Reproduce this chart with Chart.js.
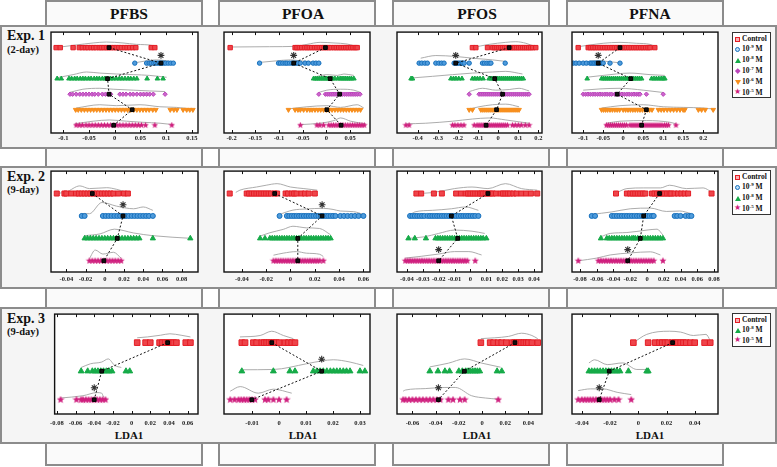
<!DOCTYPE html>
<html>
<head>
<meta charset="utf-8">
<script src="https://cdn.jsdelivr.net/npm/chart.js@4.4.1/dist/chart.umd.min.js"></script>
<style>
  html, body { margin: 0; padding: 0; background: #fff; }
  body { position: relative; width: 777px; height: 467px; overflow: hidden;
         font-family: "Liberation Serif", "Times New Roman", serif; font-weight: bold; color: #111; }
  .col { position: absolute; top: 0; width: 158px; height: 466px; box-sizing: border-box;
         border: 2px solid #8c8c8c; background: #fafafa; }
  .rowbox { position: absolute; left: 0; width: 777px; box-sizing: border-box;
            border: 2px solid #8c8c8c; background: #f5f5f5; }
  .hdr { position: absolute; top: 6px; width: 120px; margin-left: -60px; text-align: center;
         font-size: 15.5px; line-height: 15.5px; }
  .exp { position: absolute; left: 7px; font-size: 14px; line-height: 14px; }
  .day { position: absolute; left: 7px; font-size: 10.5px; line-height: 10.5px; }
  .lda { position: absolute; top: 430px; width: 60px; margin-left: -30px; text-align: center;
         font-size: 11px; line-height: 11px; }
  canvas { position: absolute; }
  .legend { position: absolute; left: 732px; width: 39px; box-sizing: border-box;
            border: 1.5px solid #333; background: #fff; }
  .li { position: absolute; left: 9px; font-size: 7.5px; line-height: 8px; white-space: nowrap; }
  .li sup { font-size: 5px; vertical-align: 3px; line-height: 0; }
  .sym { position: absolute; left: 2px; }
</style>
</head>
<body>
<div class="col" style="left:45px"></div>
<div class="col" style="left:218px"></div>
<div class="col" style="left:392px"></div>
<div class="col" style="left:566px"></div>
<div class="hdr" style="left:129px">PFBS</div>
<div class="hdr" style="left:303px">PFOA</div>
<div class="hdr" style="left:477px">PFOS</div>
<div class="hdr" style="left:650px">PFNA</div>
<div class="rowbox" style="top:25px;height:124px"></div>
<div class="rowbox" style="top:166px;height:123px"></div>
<div class="rowbox" style="top:307px;height:137px"></div>
<div class="exp" style="top:29px">Exp. 1</div>
<div class="day" style="top:45px">(2-day)</div>
<div class="exp" style="top:170px">Exp. 2</div>
<div class="day" style="top:184.5px">(9-day)</div>
<div class="exp" style="top:311.5px">Exp. 3</div>
<div class="day" style="top:327px">(9-day)</div>
<div class="lda" style="left:129px">LDA1</div>
<div class="lda" style="left:303px">LDA1</div>
<div class="lda" style="left:477px">LDA1</div>
<div class="lda" style="left:650px">LDA1</div>
<script>
// ---------- Exp. 1 (2-day): Control, 1e-9, 1e-8, 1e-7, 1e-6, 1e-5 M ----------
const pfbs1Ticks = [-0.1, -0.05, 0, 0.05, 0.1, 0.15];
const pfbs1Range = [-0.124, 0.162];
const pfbs1Points = [
  [-0.114,-0.106,-0.081,-0.069,-0.063,-0.057,-0.052,-0.046,-0.041,-0.036,-0.030,-0.026,-0.021,-0.016,-0.012,-0.007,-0.002,0.003,0.008,0.013,0.019,0.024,0.029,0.035,0.041,0.071,0.078],
  [0.039,0.062,0.067,0.071,0.076,0.080,0.084,0.088,0.091,0.095,0.099,0.104,0.109,0.114],
  [-0.112,-0.104,-0.089,-0.084,-0.078,-0.073,-0.067,-0.062,-0.057,-0.051,-0.046,-0.040,-0.035,-0.030,-0.024,-0.019,-0.014,-0.008,-0.003,0.003,0.009,0.014,0.020,0.026,0.031,0.037,0.043,0.063,0.083,0.094],
  [-0.087,-0.082,-0.075,-0.068,-0.062,-0.056,-0.050,-0.044,-0.039,-0.032,-0.024,-0.018,-0.012,-0.008,0.010,0.016,0.022,0.030,0.036,0.043,0.050,0.056,0.062,0.068,0.075,0.098],
  [-0.076,-0.071,-0.065,-0.059,-0.053,-0.047,-0.041,-0.035,-0.029,-0.023,-0.017,-0.011,-0.005,0.001,0.007,0.013,0.019,0.025,0.031,0.037,0.043,0.049,0.055,0.061,0.067,0.074,0.080,0.108,0.115,0.121,0.133,0.140,0.146,0.152],
  [-0.075,-0.069,-0.063,-0.056,-0.050,-0.044,-0.038,-0.032,-0.026,-0.020,-0.014,-0.008,-0.002,0.004,0.010,0.016,0.022,0.028,0.034,0.040,0.046,0.052,0.060,0.078,0.111]
];
const pfbs1Means = [-0.011, 0.090, -0.014, -0.011, 0.034, -0.002];
const pfbs1Curves = [
  [[-0.115,0],[-0.075,0.17],[-0.042,0.3],[-0.016,0.36],[0.016,0.3],[0.042,0.21],[0.075,0.13],[0.081,0.02]],
  [[0.036,0],[0.062,0.15],[0.081,0.21],[0.101,0.15],[0.114,0.06]],
  [[-0.114,0.05],[-0.081,0.26],[-0.055,0.43],[-0.029,0.36],[0.003,0.3],[0.036,0.26],[0.068,0.21],[0.101,0.09]],
  [[-0.088,0.11],[-0.062,0.32],[-0.029,0.38],[-0.003,0.32],[0.036,0.26],[0.068,0.21],[0.098,0.17]],
  [[-0.075,0.11],[-0.029,0.32],[0.003,0.26],[0.049,0.32],[0.088,0.19],[0.120,0.15],[0.152,0.04]],
  [[-0.078,0.09],[-0.042,0.26],[-0.010,0.34],[0.023,0.26],[0.055,0.19],[0.088,0.13],[0.114,0.04]]
];
const pfbs1Stars = [1];

const pfoa1Ticks = [-0.2, -0.15, -0.1, -0.05, 0, 0.05];
const pfoa1Range = [-0.216, 0.092];
const pfoa1Points = [
  [-0.203,-0.066,-0.062,-0.057,-0.052,-0.046,-0.041,-0.036,-0.031,-0.025,-0.020,-0.015,-0.010,-0.005,0.000,0.005,0.010,0.016,0.021,0.026,0.031,0.036,0.041,0.046,0.051,0.056,0.061,0.065],
  [-0.141,-0.101,-0.097,-0.092,-0.087,-0.083,-0.078,-0.073,-0.069,-0.064,-0.060,-0.055,-0.045,-0.038,-0.028,-0.022,-0.016],
  [-0.027,-0.023,-0.019,-0.015,-0.011,-0.007,-0.003,0.001,0.005,0.009,0.013,0.018,0.024,0.029,0.033,0.037,0.041,0.045,0.049,0.053,0.058],
  [-0.016,-0.002,0.002,0.006,0.010,0.014,0.018,0.022,0.026,0.030,0.034,0.038,0.042,0.046,0.050,0.054,0.058,0.062,0.066,0.071],
  [-0.080,-0.066,-0.060,-0.055,-0.048,-0.041,-0.035,-0.030,-0.024,-0.018,-0.012,-0.006,0.000,0.006,0.012,0.018,0.024,0.030,0.036,0.042,0.048,0.054,0.060,0.066,0.072],
  [-0.055,-0.020,-0.014,-0.006,0.005,0.010,0.015,0.020,0.025,0.030,0.035,0.040,0.045,0.050,0.055,0.060,0.065,0.070,0.075,0.080]
];
const pfoa1Means = [-0.002, -0.069, 0.008, 0.028, 0.001, 0.031];
const pfoa1Curves = [
  [[-0.203,0.04],[-0.12,0.06],[-0.066,0.08],[-0.041,0.21],[-0.013,0.34],[0.016,0.3],[0.044,0.23],[0.065,0.06]],
  [[-0.143,0.04],[-0.105,0.15],[-0.076,0.21],[-0.055,0.15],[-0.016,0.04]],
  [[-0.027,0.09],[0.001,0.26],[0.023,0.21],[0.037,0.3],[0.058,0.21]],
  [[-0.016,0.11],[0.001,0.26],[0.030,0.32],[0.058,0.26],[0.072,0.11]],
  [[-0.083,0.04],[-0.041,0.19],[0.001,0.26],[0.030,0.15],[0.065,0.32],[0.079,0.11]],
  [[-0.055,0.04],[-0.013,0.13],[0.016,0.3],[0.030,0.47],[0.051,0.26],[0.083,0.09]]
];
const pfoa1Stars = [1];

const pfos1Ticks = [-0.4, -0.3, -0.2, -0.1, 0, 0.1, 0.2];
const pfos1Range = [-0.503, 0.218];
const pfos1Points = [
  [-0.128,-0.111,-0.053,-0.028,-0.018,-0.008,0.002,0.012,0.022,0.032,0.042,0.052,0.062,0.072,0.082,0.092,0.102,0.112,0.122,0.132,0.142,0.152,0.162,0.172,0.187],
  [-0.393,-0.380,-0.365,-0.352,-0.310,-0.295,-0.282,-0.269,-0.219,-0.210,-0.200,-0.192,-0.184,-0.177,-0.169,-0.144,-0.078,-0.068,-0.056,-0.045,-0.036,0.035],
  [-0.433,-0.426,-0.235,-0.222,-0.210,-0.196,-0.180,-0.128,-0.116,-0.103,-0.090,-0.075,-0.045,-0.035,-0.025,-0.015,-0.005,0.005,0.015,0.025,0.035,0.045,0.055,0.065,0.075,0.085,0.095,0.105,0.115,0.125],
  [-0.144,-0.095,-0.085,-0.075,-0.065,-0.055,-0.045,-0.035,-0.025,-0.015,-0.005,0.005,0.015,0.025,0.035,0.045,0.055,0.065,0.075,0.085,0.095,0.105,0.115,0.125,0.135,0.145,0.154],
  [-0.144,-0.128,-0.086,-0.076,-0.066,-0.056,-0.046,-0.036,-0.026,-0.016,-0.006,0.004,0.014,0.024,0.034,0.044,0.054,0.064,0.074,0.084,0.094,0.104],
  [-0.459,-0.443,-0.227,-0.215,-0.200,-0.185,-0.170,-0.119,-0.105,-0.095,-0.085,-0.075,-0.065,-0.055,-0.045,-0.035,-0.025,-0.015,-0.005,0.005,0.015,0.025,0.035,0.046,0.071,0.085,0.100,0.115,0.135,0.154]
];
const pfos1Means = [0.055, -0.211, -0.017, 0.022, -0.008, -0.060];
const pfos1Curves = [
  [[-0.128,0],[-0.045,0.21],[0.038,0.34],[0.088,0.38],[0.138,0.28],[0.187,0.04]],
  [[-0.385,0.32],[-0.310,0.49],[-0.211,0.43],[-0.128,0.32],[-0.028,0.21],[0.038,0.11]],
  [[-0.435,0.04],[-0.327,0.15],[-0.227,0.26],[-0.128,0.36],[-0.028,0.43],[0.038,0.47],[0.121,0.3]],
  [[-0.144,0.17],[-0.078,0.38],[-0.012,0.26],[0.055,0.3],[0.104,0.38],[0.154,0.21]],
  [[-0.144,0.04],[-0.095,0.19],[-0.028,0.32],[0.038,0.36],[0.104,0.19]],
  [[-0.459,0.09],[-0.360,0.13],[-0.227,0.26],[-0.128,0.4],[-0.045,0.47],[0.038,0.34],[0.154,0.13]]
];
const pfos1Stars = [1];

const pfna1Ticks = [-0.1, -0.05, 0, 0.05, 0.1, 0.15, 0.2];
const pfna1Range = [-0.128, 0.237];
const pfna1Points = [
  [-0.1125,-0.0875,-0.082,-0.076,-0.070,-0.064,-0.058,-0.052,-0.046,-0.040,-0.034,-0.028,-0.022,-0.016,-0.010,-0.004,0.002,0.008,0.014,0.020,0.026,0.032,0.038,0.044,0.050,0.056,0.062,0.067,0.079],
  [-0.125,-0.118,-0.110,-0.100,-0.092,-0.083,-0.079,-0.075,-0.071,-0.067,-0.063,-0.059,-0.055,-0.050,-0.033,-0.008],
  [-0.090,-0.054,-0.049,-0.044,-0.039,-0.034,-0.029,-0.024,-0.019,-0.014,-0.009,-0.004,0.001,0.006,0.011,0.016,0.021,0.026,0.031,0.036,0.041,0.046,0.071,0.077,0.083,0.089,0.095,0.100,0.104],
  [-0.100,-0.094,-0.088,-0.082,-0.076,-0.070,-0.064,-0.058,-0.052,-0.046,-0.040,-0.034,-0.029,-0.021,-0.015,-0.009,-0.003,0.003,0.009,0.015,0.021,0.027,0.033,0.038,0.042,0.058,0.100],
  [-0.054,-0.049,-0.044,-0.039,-0.033,-0.027,-0.021,-0.015,-0.009,0.000,0.006,0.012,0.018,0.024,0.030,0.036,0.042,0.048,0.054,0.060,0.066,0.072,0.088,0.095,0.102,0.110,0.118,0.126,0.134,0.142,0.150,0.154,0.188,0.196,0.205,0.225],
  [-0.042,-0.037,-0.032,-0.027,-0.022,-0.017,-0.012,-0.007,-0.002,0.003,0.008,0.017,0.022,0.027,0.032,0.037,0.042,0.047,0.052,0.057,0.062,0.067,0.072,0.077,0.082,0.087,0.092,0.097,0.103,0.108,0.113,0.132]
];
const pfna1Means = [-0.008, -0.0625, 0.019, -0.015, 0.058, 0.046];
const pfna1Curves = [
  [[-0.1125,0.06],[-0.083,0.17],[-0.05,0.28],[-0.008,0.34],[0.033,0.28],[0.067,0.21],[0.079,0.09]],
  [[-0.125,0.03],[-0.09,0.1],[-0.06,0.15],[-0.03,0.08],[-0.008,0.02]],
  [[-0.092,0.09],[-0.05,0.21],[0.017,0.36],[0.067,0.26],[0.104,0.21]],
  [[-0.1,0.26],[-0.058,0.34],[-0.008,0.38],[0.05,0.26],[0.1,0.11]],
  [[-0.054,0.11],[-0.008,0.26],[0.05,0.32],[0.1,0.19],[0.15,0.15],[0.2,0.11],[0.225,0.04]],
  [[-0.042,0.13],[-0.008,0.26],[0.058,0.3],[0.117,0.19],[0.132,0.09]]
];
const pfna1Stars = [1];

// ---------- Exp. 2 (9-day): Control, 1e-9, 1e-8, 1e-5 M ----------
const pfbs2Ticks = [-0.04, -0.02, 0, 0.02, 0.04, 0.06, 0.08];
const pfbs2Range = [-0.056, 0.097];
const pfbs2Points = [
  [-0.050,-0.042,-0.040,-0.035,-0.030,-0.027,-0.024,-0.021,-0.018,-0.015,-0.012,-0.009,-0.006,-0.003,0.000,0.003,0.006,0.009,0.014,0.020,0.024],
  [-0.024,-0.021,-0.002,0.001,0.004,0.007,0.010,0.013,0.016,0.019,0.022,0.025,0.028,0.031,0.034,0.037,0.040,0.043,0.046,0.050],
  [-0.021,-0.018,-0.015,-0.012,-0.009,-0.006,-0.003,0.000,0.003,0.006,0.009,0.012,0.015,0.018,0.021,0.024,0.027,0.030,0.033,0.036,0.050,0.089],
  [-0.016,-0.013,-0.010,-0.007,-0.004,-0.001,0.002,0.005,0.008,0.011,0.014,0.017]
];
const pfbs2Means = [-0.013, 0.019, 0.013, -0.001];
const pfbs2Curves = [
  [[-0.051,0],[-0.040,0.07],[-0.026,0.34],[-0.016,0.22],[0.002,0.26],[0.012,0.19],[0.024,0.04]],
  [[-0.025,0.1],[-0.016,0.1],[-0.003,0.6],[0.012,0.44],[0.030,0.32],[0.040,0.4],[0.050,0.25]],
  [[-0.021,0.12],[-0.005,0.2],[0.010,0.41],[0.030,0.24],[0.050,0.12],[0.090,0]],
  [[-0.016,0.1],[-0.010,0.48],[-0.002,0.3],[0.009,0.38],[0.017,0.12]]
];
const pfbs2Stars = [1];

const pfoa2Ticks = [-0.04, -0.02, 0, 0.02, 0.04, 0.06];
const pfoa2Range = [-0.0547, 0.0654];
const pfoa2Points = [
  [-0.050,-0.036,-0.034,-0.032,-0.030,-0.028,-0.026,-0.024,-0.022,-0.020,-0.018,-0.016,-0.013,-0.011,-0.004,-0.002,0.001,0.003,0.005,0.009,0.012,0.015,0.020],
  [-0.009,-0.003,-0.001,0.001,0.003,0.005,0.007,0.009,0.011,0.013,0.015,0.017,0.019,0.021,0.023,0.025,0.027,0.029,0.031,0.033,0.035,0.037,0.041,0.044,0.047,0.050,0.053,0.056,0.060],
  [-0.025,-0.021,-0.017,-0.015,-0.013,-0.011,-0.009,-0.007,-0.005,-0.003,-0.001,0.001,0.003,0.005,0.007,0.009,0.011,0.013,0.015,0.017,0.019,0.021,0.023,0.025,0.027,0.029,0.031,0.033],
  [-0.014,-0.012,-0.010,-0.008,-0.006,-0.004,-0.002,0.000,0.002,0.004,0.006,0.008,0.010,0.012,0.014,0.016,0.018,0.020,0.022,0.024,0.027]
];
const pfoa2Means = [-0.013, 0.026, 0.006, 0.006];
const pfoa2Curves = [
  [[-0.045,0.05],[-0.0416,0.15],[-0.028,0.29],[-0.020,0.37],[-0.011,0.44],[0.000,0.29],[0.011,0.22],[0.022,0.15]],
  [[-0.009,0.07],[0.002,0.26],[0.013,0.31],[0.027,0.34],[0.035,0.29],[0.041,0.22],[0.052,0.19],[0.060,0.07]],
  [[-0.025,0.1],[-0.017,0.25],[-0.006,0.4],[0.002,0.54],[0.013,0.47],[0.024,0.44],[0.033,0.16]],
  [[-0.014,0.25],[-0.006,0.34],[0.005,0.41],[0.013,0.34],[0.024,0.29],[0.027,0.19]]
];
const pfoa2Stars = [1];

const pfos2Ticks = [-0.04, -0.03, -0.02, -0.01, 0, 0.01, 0.02, 0.03, 0.04];
const pfos2Range = [-0.0462, 0.045];
const pfos2Points = [
  [-0.034,-0.031,-0.023,-0.018,-0.009,-0.006,-0.003,-0.0015,0.000,0.0015,0.003,0.0045,0.006,0.007,0.008,0.0095,0.011,0.0125,0.014,0.016,0.019,0.0205,0.022,0.0235,0.025,0.027,0.029,0.032,0.035,0.038,0.042],
  [-0.038,-0.0365,-0.035,-0.0335,-0.032,-0.0305,-0.029,-0.027,-0.0255,-0.024,-0.0225,-0.021,-0.0195,-0.018,-0.0165,-0.015,-0.0135,-0.012,-0.0105,-0.009,-0.0075,-0.006,-0.0045,-0.003,-0.0015,0.000,0.0015,0.003,0.005],
  [-0.039,-0.035,-0.028,-0.022,-0.0205,-0.019,-0.0175,-0.016,-0.0145,-0.013,-0.0115,-0.010,-0.0085,-0.007,-0.0055,-0.004,-0.0025,-0.001,0.0005,0.002,0.0035,0.005,0.0065,0.008,0.010],
  [-0.041,-0.0395,-0.038,-0.0365,-0.035,-0.0335,-0.032,-0.0305,-0.029,-0.0275,-0.026,-0.0245,-0.023,-0.0215,-0.020,-0.0185,-0.017,-0.0155,-0.014,-0.0125,-0.011,-0.0095,-0.008,-0.0065,-0.005,-0.0035,-0.002,0.003]
];
const pfos2Means = [0.011, -0.012, -0.008, -0.020];
const pfos2Curves = [
  [[-0.034,0],[-0.024,0.04],[-0.010,0.22],[0.001,0.29],[0.011,0.22],[0.022,0.44],[0.032,0.22],[0.042,0.15]],
  [[-0.038,0.03],[-0.035,0.18],[-0.024,0.25],[-0.012,0.32],[-0.003,0.4],[0.005,0.25]],
  [[-0.039,0],[-0.029,0.07],[-0.020,0.22],[-0.010,0.37],[0.001,0.32],[0.009,0.22]],
  [[-0.041,0.12],[-0.031,0.2],[-0.020,0.3],[-0.010,0.41],[-0.001,0.41],[0.007,0.26]]
];
const pfos2Stars = [3];

const pfna2Ticks = [-0.08, -0.06, -0.04, -0.02, 0, 0.02, 0.04, 0.06, 0.08];
const pfna2Range = [-0.0895, 0.0847];
const pfna2Points = [
  [-0.037,-0.024,-0.020,-0.017,-0.014,-0.011,-0.008,-0.005,-0.002,0.006,0.009,0.012,0.015,0.018,0.021,0.024,0.027,0.029,0.033,0.037,0.041,0.045,0.049,0.077],
  [-0.066,-0.062,-0.042,-0.039,-0.036,-0.033,-0.030,-0.027,-0.024,-0.021,-0.018,-0.015,-0.012,-0.009,-0.006,-0.003,0.000,0.003,0.006,0.008,0.033,0.036,0.040,0.046,0.050,0.053],
  [-0.055,-0.048,-0.045,-0.042,-0.039,-0.036,-0.033,-0.030,-0.027,-0.024,-0.021,-0.018,-0.016,-0.014,-0.011,-0.008,-0.005,-0.002,0.001,0.004,0.007,0.010,0.013,0.016,0.019],
  [-0.082,-0.058,-0.055,-0.052,-0.049,-0.046,-0.043,-0.040,-0.037,-0.034,-0.031,-0.028,-0.025,-0.022,-0.019,-0.016,-0.013,-0.010,-0.007,-0.004,-0.001,0.002,0.005,0.008,0.019]
];
const pfna2Means = [0.015, -0.004, -0.008, -0.023];
const pfna2Curves = [
  [[-0.038,0],[-0.024,0.22],[-0.004,0.25],[0.016,0.25],[0.027,0.37],[0.047,0.22],[0.067,0.25],[0.077,0.07]],
  [[-0.066,0.07],[-0.042,0.18],[-0.020,0.32],[0.004,0.35],[0.023,0.2],[0.039,0.22],[0.053,0.1]],
  [[-0.055,0.07],[-0.044,0.22],[-0.024,0.26],[0,0.37],[0.012,0.41],[0.019,0.15]],
  [[-0.082,0],[-0.060,0.12],[-0.044,0.26],[-0.020,0.35],[0.004,0.4],[0.016,0.26]]
];
const pfna2Stars = [3];

// ---------- Exp. 3 (9-day): Control, 1e-8, 1e-5 M ----------
const pfbs3Ticks = [-0.08, -0.06, -0.04, -0.02, 0, 0.02, 0.04, 0.06];
const pfbs3Range = [-0.0824, 0.0711];
const pfbs3Points = [
  [0.006,0.015,0.020,0.030,0.033,0.036,0.039,0.042,0.045,0.048,0.058,0.063],
  [-0.054,-0.047,-0.042,-0.039,-0.036,-0.033,-0.030,-0.027,-0.024,-0.021,-0.006,-0.002],
  [-0.076,-0.059,-0.054,-0.052,-0.049,-0.046,-0.043,-0.040,-0.037,-0.034,-0.031,-0.028]
];
const pfbs3Means = [0.0386, -0.032, -0.040];
const pfbs3Curves = [
  [[0.006,0.17],[0.017,0.2],[0.031,0.26],[0.041,0.31],[0.053,0.26],[0.063,0.2]],
  [[-0.054,0.13],[-0.044,0.26],[-0.032,0.32],[-0.025,0.43],[-0.018,0.2],[-0.011,0.13]],
  [[-0.076,0.06],[-0.052,0.14],[-0.037,0.25],[-0.032,0.23],[-0.030,0.09]]
];
const pfbs3Stars = [2];

const pfoa3Ticks = [-0.01, 0, 0.01, 0.02, 0.03];
const pfoa3Range = [-0.0204, 0.0337];
const pfoa3Points = [
  [-0.0138,-0.0126,-0.0095,-0.0083,-0.0064,-0.0055,-0.0046,-0.0037,-0.0028,-0.0019,-0.0010,0.0001,0.0022,0.0035,0.0047,0.0059],
  [-0.0138,-0.0021,0.0040,0.0059,0.0127,0.0140,0.0152,0.0164,0.0177,0.0190,0.0202,0.0214,0.0226,0.0238,0.0250,0.0263,0.0300,0.0318],
  [-0.0181,-0.0165,-0.0150,-0.0140,-0.0130,-0.0120,-0.0110,-0.0100,-0.0089,-0.0052,-0.0040,-0.0021,0.0000,0.0028]
];
const pfoa3Means = [-0.0027, 0.0158, -0.0101];
const pfoa3Curves = [
  [[-0.0145,0.2],[-0.007,0.25],[-0.0027,0.4],[0.0016,0.25],[0.0053,0.14]],
  [[-0.0138,0.05],[-0.0021,0.06],[0.0102,0.26],[0.0158,0.36],[0.0201,0.4],[0.0263,0.32],[0.0312,0.2]],
  [[-0.0181,0.3],[-0.0144,0.46],[-0.0077,0.23],[-0.0021,0.37],[0.0047,0.23]]
];
const pfoa3Stars = [1];

const pfos3Ticks = [-0.06, -0.04, -0.02, 0, 0.02, 0.04];
const pfos3Range = [-0.0733, 0.0517];
const pfos3Points = [
  [-0.001,0.007,0.010,0.014,0.017,0.021,0.026,0.028,0.030,0.032,0.034,0.036,0.038,0.040,0.043,0.048],
  [-0.045,-0.038,-0.032,-0.028,-0.020,-0.017,-0.014,-0.012,-0.010,-0.008,-0.006,-0.004,-0.002,0.013,0.017],
  [-0.068,-0.066,-0.063,-0.060,-0.057,-0.054,-0.051,-0.048,-0.045,-0.042,-0.039,-0.036,-0.029,-0.025,-0.019,-0.015,0.014]
];
const pfos3Means = [0.0284, -0.0152, -0.0376];
const pfos3Curves = [
  [[-0.001,0.14],[0.011,0.17],[0.023,0.22],[0.034,0.33],[0.043,0.25],[0.048,0.14]],
  [[-0.045,0.15],[-0.029,0.28],[-0.015,0.43],[0,0.28],[0.016,0.14]],
  [[-0.068,0.3],[-0.066,0.34],[-0.049,0.39],[-0.032,0.43],[-0.023,0.43],[-0.009,0.14],[0.003,0.06],[0.014,0.02]]
];
const pfos3Stars = [2];

const pfna3Ticks = [-0.04, -0.02, 0, 0.02, 0.04];
const pfna3Range = [-0.047, 0.0565];
const pfna3Points = [
  [-0.0035,0.007,0.012,0.015,0.017,0.019,0.021,0.024,0.026,0.028,0.030,0.032,0.034,0.037,0.040,0.047,0.051],
  [-0.035,-0.033,-0.031,-0.029,-0.027,-0.025,-0.023,-0.021,-0.019,-0.017,-0.015,-0.013,-0.007,0.006,0.007],
  [-0.0426,-0.040,-0.038,-0.036,-0.034,-0.032,-0.030,-0.028,-0.026,-0.024,-0.022,-0.020,-0.017,-0.014,-0.005]
];
const pfna3Means = [0.0243, -0.0206, -0.0277];
const pfna3Curves = [
  [[-0.0035,0],[0.006,0.29],[0.022,0.4],[0.030,0.37],[0.039,0.25],[0.048,0.29],[0.051,0.08]],
  [[-0.035,0.29],[-0.031,0.4],[-0.022,0.23],[-0.011,0.29],[-0.001,0.06],[0.007,0.06]],
  [[-0.0426,0.32],[-0.034,0.38],[-0.025,0.38],[-0.015,0.26],[-0.005,0.18]]
];
const pfna3Stars = [2];

// groups shown in each experiment row, top to bottom
const rowGroups = [
  ['ctrl', 'm9', 'm8', 'm7', 'm6', 'm5'],
  ['ctrl', 'm9', 'm8', 'm5'],
  ['ctrl', 'm8', 'm5']
];
const legendText = {
  ctrl: 'Control', m9: '10<sup>-9</sup> M', m8: '10<sup>-8</sup> M',
  m7: '10<sup>-7</sup> M', m6: '10<sup>-6</sup> M', m5: '10<sup>-5</sup> M'
};

const panels = [
  [pfbs1Points, pfbs1Means, pfbs1Curves, pfbs1Stars, pfbs1Ticks, pfbs1Range],
  [pfoa1Points, pfoa1Means, pfoa1Curves, pfoa1Stars, pfoa1Ticks, pfoa1Range],
  [pfos1Points, pfos1Means, pfos1Curves, pfos1Stars, pfos1Ticks, pfos1Range],
  [pfna1Points, pfna1Means, pfna1Curves, pfna1Stars, pfna1Ticks, pfna1Range],
  [pfbs2Points, pfbs2Means, pfbs2Curves, pfbs2Stars, pfbs2Ticks, pfbs2Range],
  [pfoa2Points, pfoa2Means, pfoa2Curves, pfoa2Stars, pfoa2Ticks, pfoa2Range],
  [pfos2Points, pfos2Means, pfos2Curves, pfos2Stars, pfos2Ticks, pfos2Range],
  [pfna2Points, pfna2Means, pfna2Curves, pfna2Stars, pfna2Ticks, pfna2Range],
  [pfbs3Points, pfbs3Means, pfbs3Curves, pfbs3Stars, pfbs3Ticks, pfbs3Range],
  [pfoa3Points, pfoa3Means, pfoa3Curves, pfoa3Stars, pfoa3Ticks, pfoa3Range],
  [pfos3Points, pfos3Means, pfos3Curves, pfos3Stars, pfos3Ticks, pfos3Range],
  [pfna3Points, pfna3Means, pfna3Curves, pfna3Stars, pfna3Ticks, pfna3Range]
];

// ---------- layout ----------
const plotL = [51, 224, 397, 572], plotR = [198, 370, 542, 718];
const plotT = [31, 170, 313], plotB = [133, 272, 414];
const tickPad = [1, 3, 5];
const markSize = [4.4, 5, 5.6];
const starLift = [0.5, 0.5, 0.42];
const legendTop = [32, 170, 313];
const FONT = '"Liberation Serif", "Times New Roman", serif';

const STYLE = {
  ctrl: { color: '#e41e26', fill: '#ee454b', shape: 'rect' },
  m9:   { color: '#1670bd', fill: '#4f9bdb', shape: 'circle' },
  m8:   { color: '#16ab48', fill: '#16ab48', shape: 'triangle' },
  m7:   { color: '#bb45bb', fill: '#cc66cc', shape: 'rectRot' },
  m6:   { color: '#f78f1e', fill: '#f78f1e', shape: 'triangle', rot: 180 },
  m5:   { color: '#cf1f7e', fill: '#cf1f7e', shape: 'star5' }
};

function starImage(color, size) {
  const c = document.createElement('canvas');
  c.width = c.height = Math.ceil(size);
  const g = c.getContext('2d');
  const cx = c.width / 2, cy = c.height / 2, R = size / 2, r = R * 0.45;
  g.beginPath();
  for (let i = 0; i < 10; i++) {
    const a = -Math.PI / 2 + i * Math.PI / 5, rr = i % 2 ? r : R;
    g.lineTo(cx + rr * Math.cos(a), cy + rr * Math.sin(a));
  }
  g.closePath();
  g.fillStyle = color;
  g.fill();
  return c;
}

function radiusFor(shape, s) {
  if (shape === 'rect') return s / 1.414;
  if (shape === 'circle') return s / 2;
  if (shape === 'triangle') return s / 1.65;
  if (shape === 'rectRot') return s / 2;
  return 3;
}

function fmt(v) {
  if (Math.abs(v) < 1e-9) return '0';
  return String(parseFloat(v.toFixed(4)));
}

const framePlugin = {
  id: 'frame',
  beforeDraw(chart) {
    const a = chart.chartArea, g = chart.ctx;
    g.save();
    g.fillStyle = '#fff';
    g.fillRect(a.left, a.top, a.right - a.left, a.bottom - a.top);
    g.restore();
  },
  afterDraw(chart) {
    const a = chart.chartArea, g = chart.ctx, sx = chart.scales.x;
    g.save();
    g.strokeStyle = '#111';
    g.lineWidth = 1;
    sx.ticks.forEach(t => {
      const p = Math.round(sx.getPixelForValue(t.value)) + 0.5;
      g.beginPath();
      g.moveTo(p, a.top); g.lineTo(p, a.top + 3);
      g.moveTo(p, a.bottom); g.lineTo(p, a.bottom - 3);
      g.stroke();
    });
    g.lineWidth = 1.4;
    g.strokeRect(a.left, a.top, a.right - a.left, a.bottom - a.top);
    g.restore();
  }
};

panels.forEach((p, idx) => {
  const [pts, means, curves, stars, ticks, range] = p;
  const r = Math.floor(idx / 4), c = idx % 4;
  const groups = rowGroups[r];
  const s = markSize[r];
  const W = plotR[c] - plotL[c] + 12, H = plotB[r] - plotT[r] + 4 + 14;

  const cv = document.createElement('canvas');
  cv.width = W; cv.height = H;
  cv.style.left = (plotL[c] - 6) + 'px';
  cv.style.top = (plotT[r] - 4) + 'px';
  document.body.appendChild(cv);

  const datasets = [];
  groups.forEach((key, k) => {
    const st = STYLE[key];
    datasets.push({
      data: curves[k].map(q => ({ x: q[0], y: k - q[1] })),
      showLine: true, borderColor: '#a3a3a3', borderWidth: 0.9,
      pointRadius: 0, cubicInterpolationMode: 'monotone', order: 5
    });
    const ps = st.shape === 'star5' ? starImage(st.fill, s + 2.4) : st.shape;
    datasets.push({
      data: pts[k].map(v => ({ x: v, y: k })),
      pointStyle: ps, pointRadius: radiusFor(st.shape, s), pointRotation: st.rot || 0,
      pointBackgroundColor: st.fill, pointBorderColor: st.color, pointBorderWidth: 1,
      order: 3
    });
  });
  datasets.push({
    data: means.map((v, k) => ({ x: v, y: k })),
    showLine: true, borderColor: '#111', borderWidth: 1, borderDash: [2, 2],
    pointStyle: 'rect', pointRadius: 2.6, pointBackgroundColor: '#111',
    pointBorderColor: '#000', pointBorderWidth: 1, order: 1
  });
  datasets.push({
    data: stars.map(k => ({ x: means[k], y: k - starLift[r] })),
    pointStyle: 'star', pointRadius: 3.4, pointBorderColor: '#333',
    pointBorderWidth: 1.1, order: 0
  });

  new Chart(cv, {
    type: 'scatter',
    data: { datasets },
    options: {
      responsive: false, animation: false, events: [], devicePixelRatio: 1,
      layout: { padding: { left: 6, right: 6, top: 4, bottom: 0 } },
      plugins: { legend: { display: false }, tooltip: { enabled: false } },
      scales: {
        x: {
          type: 'linear', min: range[0], max: range[1],
          grid: { display: false, drawTicks: false }, border: { display: false },
          afterBuildTicks: sc => { sc.ticks = ticks.map(v => ({ value: v })); },
          afterFit: sc => { sc.height = 14; },
          ticks: {
            autoSkip: false, maxRotation: 0, minRotation: 0, padding: tickPad[r],
            color: '#1a1a1a', font: { family: FONT, size: 6.5, weight: 'bold' },
            callback: v => fmt(v)
          }
        },
        y: { type: 'linear', display: false, reverse: true, min: -1, max: groups.length - 0.5 }
      }
    },
    plugins: [framePlugin]
  });
});

// ---------- legends ----------
function symbolHtml(key) {
  const st = STYLE[key];
  if (key === 'ctrl') return `<span class="sym" style="top:2px;width:3px;height:3px;border:1.2px solid ${st.color};background:#f8b0b3"></span>`;
  if (key === 'm9') return `<span class="sym" style="top:1.5px;width:3px;height:3px;border-radius:50%;border:1.2px solid ${st.color};background:#bcdcf5"></span>`;
  if (key === 'm8') return `<span class="sym" style="top:1.5px;width:0;height:0;border-left:3px solid transparent;border-right:3px solid transparent;border-bottom:5px solid ${st.color}"></span>`;
  if (key === 'm7') return `<span class="sym" style="top:2px;left:3px;width:3.5px;height:3.5px;transform:rotate(45deg);background:${st.color}"></span>`;
  if (key === 'm6') return `<span class="sym" style="top:2px;width:0;height:0;border-left:3px solid transparent;border-right:3px solid transparent;border-top:5px solid ${st.color}"></span>`;
  return `<span class="sym" style="top:-1px;left:1px;font-family:'DejaVu Sans';font-size:8px;line-height:8px;color:${st.color}">&#9733;</span>`;
}

rowGroups.forEach((groups, r) => {
  const box = document.createElement('div');
  box.className = 'legend';
  box.style.top = legendTop[r] + 'px';
  box.style.height = (groups.length * 10.8 + 1.5) + 'px';
  groups.forEach((key, k) => {
    const item = document.createElement('div');
    item.style.position = 'absolute';
    item.style.left = '0px';
    item.style.top = (1.5 + k * 10.8) + 'px';
    item.innerHTML = symbolHtml(key) + `<span class="li">${legendText[key]}</span>`;
    box.appendChild(item);
  });
  document.body.appendChild(box);
});
</script>
</body>
</html>
